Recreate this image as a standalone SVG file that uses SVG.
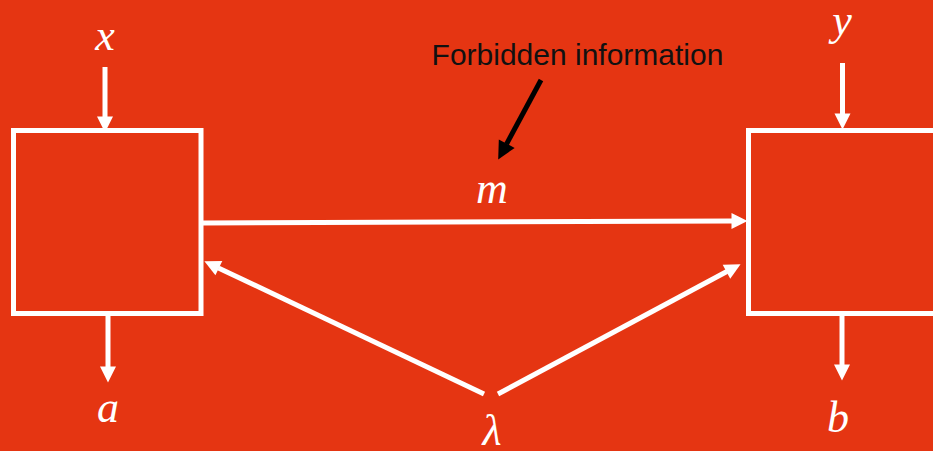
<svg xmlns="http://www.w3.org/2000/svg" width="933" height="451" viewBox="0 0 933 451">
<style>
.box{fill:none;stroke:#fff;stroke-width:5}
.w{stroke:#fff;stroke-width:5;fill:none}
.k{stroke:#000;stroke-width:5;fill:none}
.math{font-family:"Liberation Serif",serif;font-style:italic;font-size:44px;fill:#fff;text-anchor:middle}
.lab{font-family:"Liberation Sans",sans-serif;font-size:30px;fill:#111;text-anchor:middle}
</style>
<defs>
<marker id="hw" markerUnits="userSpaceOnUse" markerWidth="17" markerHeight="17" refX="0.5" refY="8" orient="auto" overflow="visible"><path d="M0,0 L16,8 L0,16 z" fill="#fff"/></marker>
<marker id="hk" markerUnits="userSpaceOnUse" markerWidth="19" markerHeight="19" refX="0.5" refY="9" orient="auto" overflow="visible"><path d="M0,0 L18,9 L0,18 z" fill="#000"/></marker>
</defs>
<rect width="933" height="451" fill="#E53512"/>
<g id="boxA"><rect class="box" x="13.5" y="130.5" width="187.5" height="183"/></g>
<g id="boxB"><rect class="box" x="748.5" y="130.5" width="187.5" height="183"/></g>
<g id="connectors">
<line class="w" x1="105" y1="67" x2="105" y2="117" marker-end="url(#hw)"/>
<line class="w" x1="842.5" y1="63" x2="842.5" y2="114" marker-end="url(#hw)"/>
<line class="w" x1="108" y1="316" x2="108" y2="367" marker-end="url(#hw)"/>
<line class="w" x1="842" y1="316" x2="842" y2="365" marker-end="url(#hw)"/>
<line class="w" x1="203" y1="223" x2="732" y2="221" marker-end="url(#hw)"/>
<line class="w" x1="484" y1="394" x2="218.4" y2="267.9" marker-end="url(#hw)"/>
<line class="w" x1="498" y1="394" x2="726.9" y2="271.5" marker-end="url(#hw)"/>
<line class="k" x1="541" y1="80" x2="506.5" y2="144.1" marker-end="url(#hk)"/>
</g>
<g id="labels">
<text class="math" x="105" y="50">x</text>
<text class="math" x="842" y="35">y</text>
<text class="math" x="108" y="422">a</text>
<text class="math" x="838" y="432">b</text>
<text class="math" x="492" y="203">m</text>
<text class="math" x="492" y="445">λ</text>
<text class="lab" x="577.5" y="65">Forbidden information</text>
</g>
</svg>
